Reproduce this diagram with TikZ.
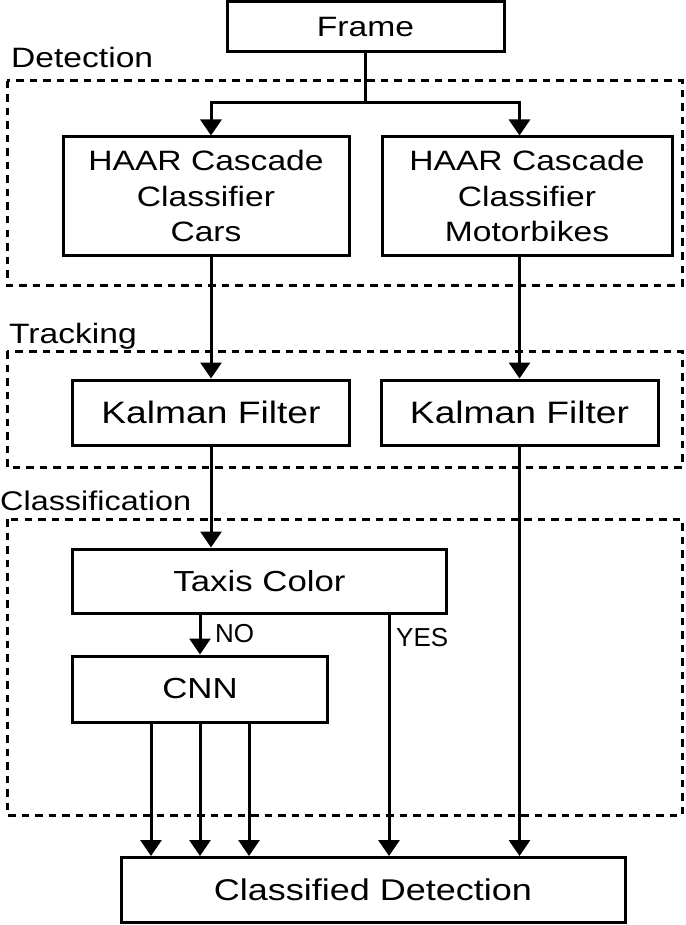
\documentclass[tikz,border=0pt]{standalone}
\usepackage{fontspec}
\setmainfont{Liberation Sans}[FakeStretch=1.2]
\newfontfamily\plainsans{Liberation Sans}
\usetikzlibrary{arrows.meta}

\tikzset{
  box/.style={draw, line width=3pt, inner sep=0pt, align=center},
  region/.style={draw, line width=3pt, dash pattern=on 7.5pt off 6pt},
  arr/.style={line width=3pt, -{Triangle[length=16pt,width=21pt]}},
  conn/.style={line width=3pt},
  lbl/.style={anchor=base west, inner sep=0pt},
}

\begin{document}
\begin{tikzpicture}[x=1pt,y=-1pt]
\useasboundingbox (0,0) rectangle (685,925);
% stage regions
\draw[region] (7,81) rectangle (682,285);
\draw[region] (7,351) rectangle (682,467);
\draw[region] (7,519) rectangle (682,815);
\node[lbl, font=\fontsize{28}{34}\selectfont] (detlbl) at (11,68) {Detection};
\node[lbl, font=\fontsize{28}{34}\selectfont] (tralbl) at (9,343) {Tracking};
\node[lbl, font=\fontsize{27}{34}\selectfont] (clslbl) at (0,510) {Classification};
% boxes
\node[box, minimum width=277pt, minimum height=50pt, font=\fontsize{28}{34}\selectfont] (frame) at (365.5,27) {Frame};
\node[box, minimum width=286pt, minimum height=118pt, font=\fontsize{28}{35.5}\selectfont] (haarcar) at (206,196) {HAAR Cascade\\Classifier\\Cars};
\node[box, minimum width=290pt, minimum height=118pt, font=\fontsize{28}{35.5}\selectfont] (haarmoto) at (527,196) {HAAR Cascade\\Classifier\\Motorbikes};
\node[box, minimum width=277pt, minimum height=65pt, font=\fontsize{31}{37}\selectfont] (kalcar) at (211,412.5) {Kalman Filter};
\node[box, minimum width=277pt, minimum height=65pt, font=\fontsize{31}{37}\selectfont] (kalmoto) at (519.5,412.5) {Kalman Filter};
\node[box, minimum width=374pt, minimum height=64pt, font=\fontsize{29}{35}\selectfont] (taxis) at (259.5,581) {Taxis Color};
\node[box, minimum width=255pt, minimum height=66pt, font=\fontsize{29}{35}\selectfont] (cnn) at (200,689) {CNN};
\node[box, minimum width=504pt, minimum height=65pt, font=\fontsize{30}{36}\selectfont] (classified) at (373,890) {Classified Detection};
% connectors
\coordinate (split) at (365.5,103);
\coordinate (yes) at (389,0);
\draw[arr] (frame.south) -- (split) -| (kalcar |- haarcar.north);
\draw[arr] (frame.south) -- (split) -| (kalmoto |- haarmoto.north);
\draw[arr] (kalcar |- haarcar.south) -- (kalcar.north);
\draw[arr] (kalmoto |- haarmoto.south) -- (kalmoto.north);
\draw[arr] (kalcar.south) -- (kalcar |- taxis.north);
\draw[arr] (kalmoto.south) -- (kalmoto |- classified.north);
\draw[arr] (taxis.south -| cnn) -- (cnn.north);
\draw[arr] (taxis.south -| yes) -- (yes |- classified.north);
\draw[arr] ([xshift=-49pt]cnn.south) -- ([xshift=-49pt]cnn.south |- classified.north);
\draw[arr] (cnn.south) -- (cnn.south |- classified.north);
\draw[arr] ([xshift=49pt]cnn.south) -- ([xshift=49pt]cnn.south |- classified.north);
\node[lbl, font=\plainsans\fontsize{26}{30}\selectfont] (nolbl) at (215,642) {NO};
\node[lbl, font=\plainsans\fontsize{26}{30}\selectfont] (yeslbl) at (396,646) {YES};
\end{tikzpicture}
\end{document}
